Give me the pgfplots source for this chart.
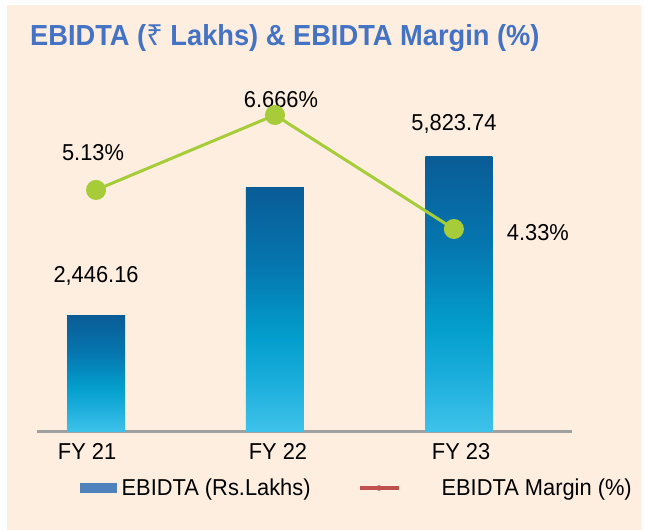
\documentclass[border=0pt]{standalone}
\usepackage{pgfplots}
\pgfplotsset{compat=1.18}
\usepackage{fontspec}
\setmainfont{Liberation Sans}[FakeStretch=0.95]
\newfontfamily\titlefont{Liberation Sans}[FakeStretch=0.94]
\newfontfamily\rupeefont{Noto Sans}
\definecolor{peach}{RGB}{253,238,224}
\definecolor{titleblue}{RGB}{68,114,196}
\definecolor{axgray}{RGB}{160,160,160}
\definecolor{lgreen}{RGB}{166,204,58}
\definecolor{legblue}{RGB}{79,129,189}
\definecolor{legred}{RGB}{192,80,77}
\definecolor{b0}{RGB}{62,194,234}
\definecolor{b1}{RGB}{24,172,218}
\definecolor{b2}{RGB}{3,158,205}
\definecolor{b3}{RGB}{5,118,175}
\definecolor{b4}{RGB}{10,92,150}
\pgfdeclareverticalshading{barshade}{100bp}{color(0bp)=(b0); color(25bp)=(b0); color(36bp)=(b1); color(44bp)=(b2); color(59bp)=(b3); color(75bp)=(b4); color(100bp)=(b4)}
\newcommand{\lbl}{\fontsize{23bp}{27bp}\selectfont}
\begin{document}
\begin{tikzpicture}
\useasboundingbox (0,0) rectangle (645bp,-530bp);
\fill[white] (0,0) rectangle (645bp,-530bp);
\fill[peach] (7bp,-5bp) rectangle (641bp,-530bp);
\node[anchor=base west, inner sep=0pt, text=titleblue] at (30bp,-45bp)
  {\titlefont\fontsize{29bp}{33bp}\selectfont\bfseries EBIDTA ({\rupeefont\bfseries ₹} Lakhs) \& EBIDTA Margin (\%)};
% bars
\begin{axis}[
  at={(37bp,-431bp)}, anchor=south west,
  scale only axis, width=535bp, height=330bp,
  xmin=-0.33, xmax=2.66, ymin=0, ymax=7000,
  hide y axis,
  axis x line*=bottom,
  x axis line style={line width=3bp, color=axgray},
  xtick={-0.05,1.017,2.04}, xticklabels={FY 21,FY 22,FY 23},
  xtick style={draw=none},
  xticklabel style={font=\lbl, text=black, yshift=-5bp},
  ybar, clip=false,
]
\addplot[draw=none, shade, shading=barshade, bar width=58bp, bar shift=0bp] coordinates {(0,2446.16)};
\addplot[draw=none, shade, shading=barshade, bar width=58bp, bar shift=0bp] coordinates {(1,5174)};
\addplot[draw=none, shade, shading=barshade, bar width=67bp, bar shift=5bp] coordinates {(2,5823.74)};
\node[font=\lbl, anchor=center] at (axis cs:0,2446.16) [yshift=40bp] {2,446.16};
\node[font=\lbl, anchor=center] at (axis cs:2,5823.74) [yshift=33bp] {5,823.74};
\end{axis}
% line
\begin{axis}[
  at={(37bp,-431bp)}, anchor=south west,
  scale only axis, width=535bp, height=330bp,
  xmin=-0.33, xmax=2.66, ymin=0.19, ymax=6.953,
  hide axis, clip=false,
  legend style={draw=none, fill=none, inner sep=0pt, font=\lbl,
    at={(axis description cs:0.0804,-0.1727)}, anchor=west,
    /tikz/every even column/.append style={column sep=45bp}},
  legend columns=2, legend cell align=left,
]
\node[font=\lbl] at (axis cs:0,5.13) [yshift=37bp, xshift=-3bp] {5.13\%};
\node[font=\lbl] at (axis cs:1,6.666) [yshift=15bp, xshift=6bp] {6.666\%};
\node[font=\lbl] at (axis cs:2,4.33) [xshift=84bp, yshift=-4bp] {4.33\%};
\addplot[color=lgreen, line width=3bp, mark=*, mark size=8.5bp, mark options={draw=none, fill=lgreen}, forget plot] coordinates {(0,5.13) (1,6.666) (2,4.33)};
\addlegendimage{legend image code/.code={\fill[legblue] (0bp,-4.5bp) rectangle (36bp,4.5bp);}}
\addlegendentry{\hspace*{3bp}EBIDTA (Rs.Lakhs)}
\addlegendimage{legend image code/.code={\draw[legred, line width=4bp] (0bp,0bp) -- (39bp,0bp); \fill[legred] (19.5bp,0bp) circle (2.5bp);}}
\addlegendentry{\hspace*{39bp}EBIDTA Margin (\%)}
\end{axis}
\end{tikzpicture}
\end{document}
